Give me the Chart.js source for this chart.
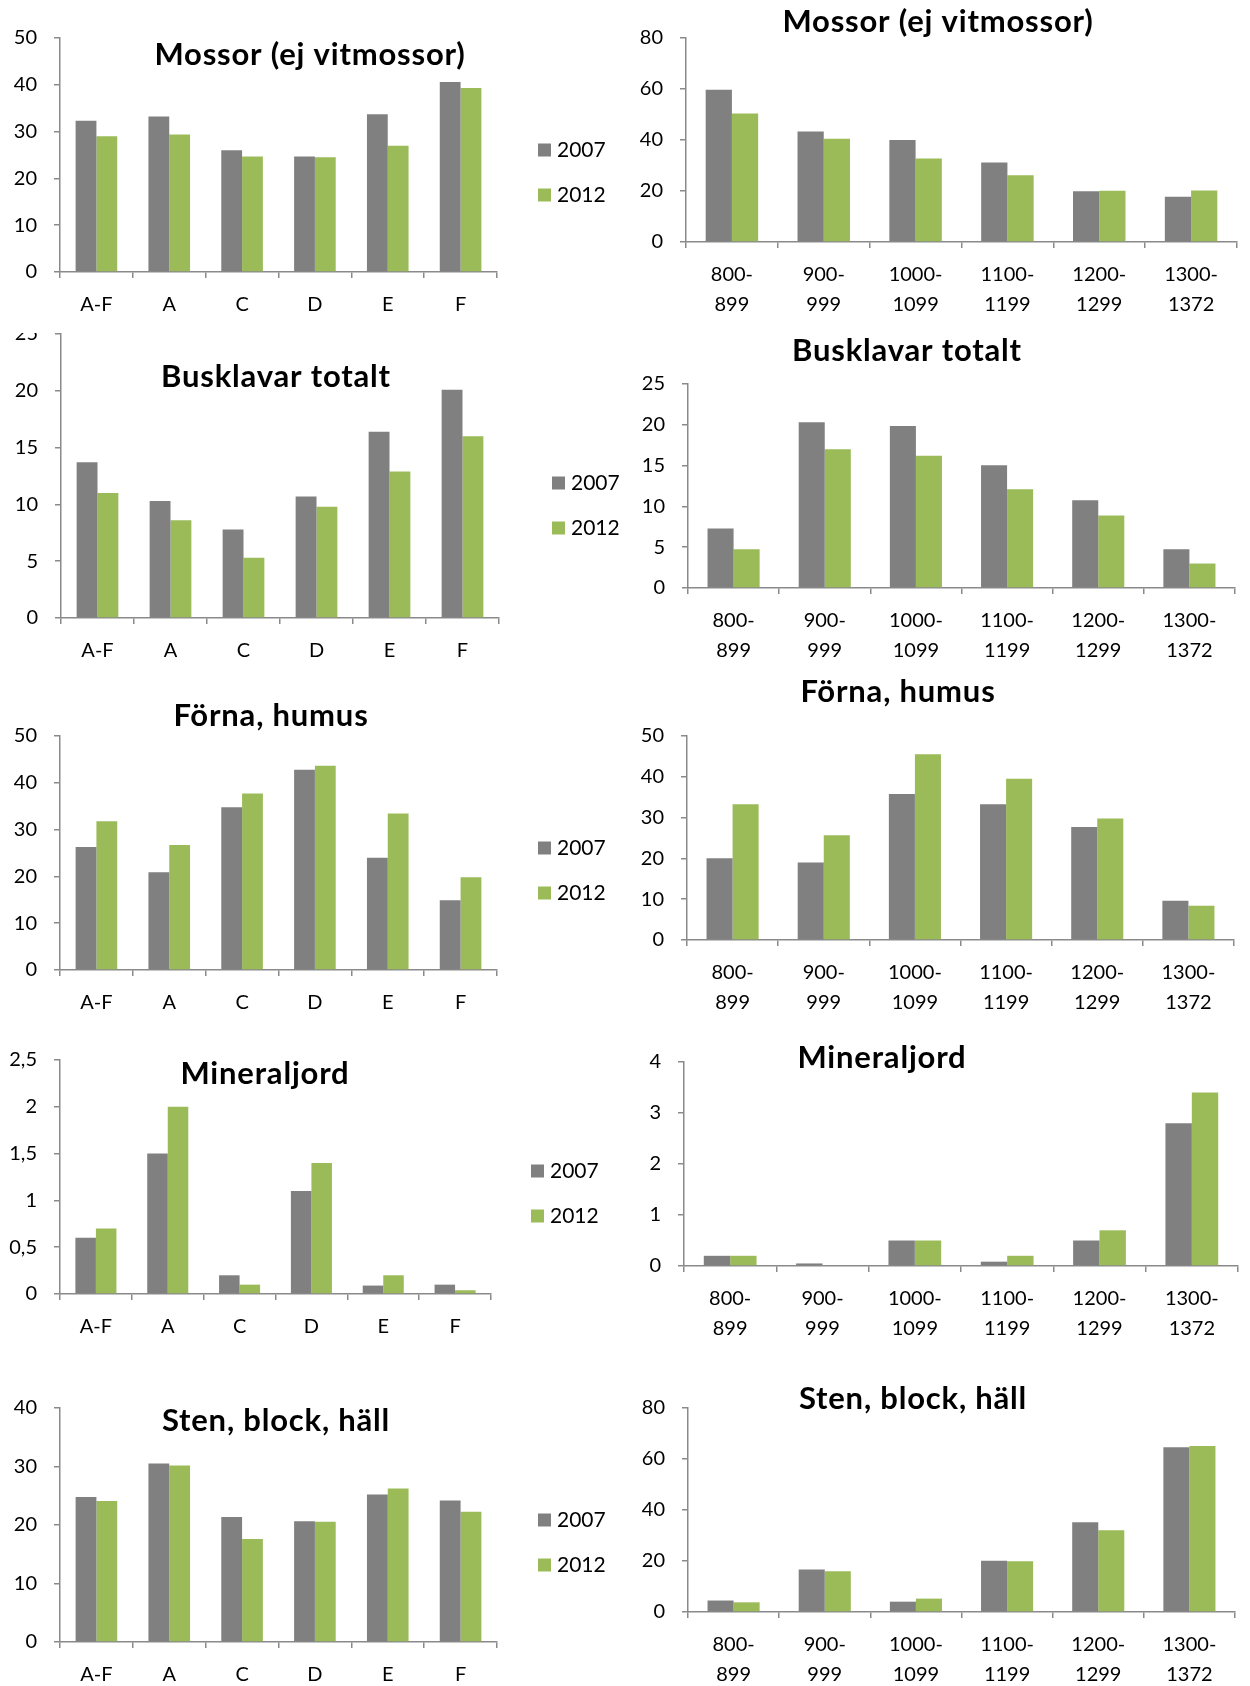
<!DOCTYPE html>
<html lang="sv">
<head>
<meta charset="utf-8">
<title>Mossor, busklavar, förna, mineraljord och sten 2007–2012</title>
<script src="https://cdn.jsdelivr.net/npm/chart.js@4.4.1/dist/chart.umd.min.js"></script>
<style>
  html, body { margin: 0; padding: 0; background: #fff; }
  #page { position: relative; width: 1250px; height: 1686px; overflow: hidden; }
  .slot { position: absolute; overflow: hidden; }
  .slot canvas { position: absolute; left: 0; }
</style>
</head>
<body>
<div id="page"></div>
<script>
// kategorier
const zoner = ['A-F', 'A', 'C', 'D', 'E', 'F'];
const hojder = [['800-', '899'], ['900-', '999'], ['1000-', '1099'], ['1100-', '1199'], ['1200-', '1299'], ['1300-', '1372']];
const ar = ['2007', '2012'];

// Mossor (ej vitmossor)
const mossorZon2007 = [32.3, 33.2, 26.0, 24.7, 33.7, 40.6];
const mossorZon2012 = [29.0, 29.4, 24.7, 24.5, 27.0, 39.3];
const mossorHojd2007 = [59.7, 43.3, 40.0, 31.2, 19.9, 17.7];
const mossorHojd2012 = [50.4, 40.5, 32.7, 26.2, 20.1, 20.2];

// Busklavar totalt
const buskZon2007 = [13.7, 10.3, 7.8, 10.7, 16.4, 20.1];
const buskZon2012 = [11.0, 8.6, 5.3, 9.8, 12.9, 16.0];
const buskHojd2007 = [7.3, 20.3, 19.85, 15.05, 10.75, 4.75];
const buskHojd2012 = [4.75, 17.0, 16.2, 12.1, 8.9, 3.0];

// Förna, humus
const fornaZon2007 = [26.3, 20.9, 34.8, 42.8, 24.0, 14.9];
const fornaZon2012 = [31.8, 26.7, 37.7, 43.65, 33.45, 19.8];
const fornaHojd2007 = [20.05, 19.0, 35.8, 33.3, 27.7, 9.65];
const fornaHojd2012 = [33.3, 25.7, 45.5, 39.5, 29.8, 8.4];

// Mineraljord
const mineralZon2007 = [0.6, 1.5, 0.2, 1.1, 0.09, 0.1];
const mineralZon2012 = [0.7, 2.0, 0.1, 1.4, 0.2, 0.04];
const mineralHojd2007 = [0.2, 0.05, 0.5, 0.085, 0.5, 2.8];
const mineralHojd2012 = [0.2, 0, 0.5, 0.2, 0.7, 3.4];

// Sten, block, häll
const stenZon2007 = [24.8, 30.5, 21.35, 20.65, 25.2, 24.2];
const stenZon2012 = [24.1, 30.15, 17.6, 20.55, 26.25, 22.25];
const stenHojd2007 = [4.5, 16.65, 4.05, 20.05, 35.15, 64.65];
const stenHojd2012 = [3.8, 16.0, 5.25, 19.9, 32.1, 65.05];

const GRAY = '#808080';
const GREEN = '#9bbb59';
const AXIS = '#8a8a8a';
const Y_W = 60;   // bredd för y-axeln
const X_H = 95;   // höjd för x-axeln (två rader etiketter)

Chart.defaults.font.family = 'Lato, "Open Sans", sans-serif';
Chart.defaults.color = '#000';

// rubrik och förklaring ritas på egna positioner
const panelDecor = {
  id: 'panelDecor',
  afterDraw(chart, args, opts) {
    const ctx = chart.ctx;
    ctx.save();
    ctx.fillStyle = '#000';
    ctx.textBaseline = 'middle';
    ctx.textAlign = 'center';
    ctx.font = 'bold 31px Lato, sans-serif';
    ctx.letterSpacing = '0.8px';
    ctx.fillText(opts.text, opts.tx, opts.ty);
    ctx.letterSpacing = '0px';
    if (opts.legend) {
      ctx.textAlign = 'left';
      ctx.font = '21px Lato, sans-serif';
      chart.data.datasets.forEach((ds, i) => {
        const y = opts.ly + i * 45;
        ctx.fillStyle = ds.backgroundColor;
        ctx.fillRect(opts.lx, y - 6.5, 13, 13);
        ctx.fillStyle = '#000';
        ctx.fillText(ds.label, opts.lx + 19, y);
      });
    }
    ctx.restore();
  }
};

const panels = [
  { title: 'Mossor (ej vitmossor)', labels: zoner, a: mossorZon2007, b: mossorZon2012, max: 50, step: 10,
    box: { x: 60, top: 38, zero: 272, right: 497 }, tpos: [310, 55], lpos: [538, 150] },
  { title: 'Mossor (ej vitmossor)', labels: hojder, a: mossorHojd2007, b: mossorHojd2012, max: 80, step: 20,
    box: { x: 686, top: 38, zero: 242, right: 1237 }, tpos: [938, 22] },
  { title: 'Busklavar totalt', labels: zoner, a: buskZon2007, b: buskZon2012, max: 25, step: 5,
    box: { x: 61, top: 334, zero: 618, right: 499 }, tpos: [276, 377], lpos: [552, 483], clipTop: 333 },
  { title: 'Busklavar totalt', labels: hojder, a: buskHojd2007, b: buskHojd2012, max: 25, step: 5,
    box: { x: 688, top: 384, zero: 588, right: 1235 }, tpos: [907, 351] },
  { title: 'Förna, humus', labels: zoner, a: fornaZon2007, b: fornaZon2012, max: 50, step: 10,
    box: { x: 60, top: 736, zero: 970, right: 497 }, tpos: [271, 716], lpos: [538, 848] },
  { title: 'Förna, humus', labels: hojder, a: fornaHojd2007, b: fornaHojd2012, max: 50, step: 10,
    box: { x: 687, top: 736, zero: 940, right: 1234 }, tpos: [898, 692] },
  { title: 'Mineraljord', labels: zoner, a: mineralZon2007, b: mineralZon2012, max: 2.5, step: 0.5,
    box: { x: 60, top: 1060, zero: 1294, right: 491 }, tpos: [265, 1074], lpos: [531, 1171] },
  { title: 'Mineraljord', labels: hojder, a: mineralHojd2007, b: mineralHojd2012, max: 4, step: 1,
    box: { x: 684, top: 1062, zero: 1266, right: 1238 }, tpos: [882, 1058] },
  { title: 'Sten, block, häll', labels: zoner, a: stenZon2007, b: stenZon2012, max: 40, step: 10,
    box: { x: 60, top: 1408, zero: 1642, right: 497 }, tpos: [276, 1421], lpos: [538, 1520] },
  { title: 'Sten, block, häll', labels: hojder, a: stenHojd2007, b: stenHojd2012, max: 80, step: 20,
    box: { x: 688, top: 1408, zero: 1612, right: 1235 }, tpos: [913, 1399] }
];

const page = document.getElementById('page');

panels.forEach(p => {
  const left = p.box.x < 625 ? 0 : 625;
  const width = 625;
  const top = Math.min(p.box.top - 40, p.tpos[1] - 24);
  const height = p.box.zero - top + X_H;
  const clipTop = p.clipTop !== undefined ? p.clipTop : top;

  const slot = document.createElement('div');
  slot.className = 'slot';
  slot.style.left = left + 'px';
  slot.style.top = clipTop + 'px';
  slot.style.width = width + 'px';
  slot.style.height = (top + height - clipTop) + 'px';
  const canvas = document.createElement('canvas');
  canvas.width = width;
  canvas.height = height;
  canvas.style.top = (top - clipTop) + 'px';
  slot.appendChild(canvas);
  page.appendChild(slot);

  new Chart(canvas.getContext('2d'), {
    type: 'bar',
    data: {
      labels: p.labels,
      datasets: [
        { label: ar[0], data: p.a, backgroundColor: GRAY },
        { label: ar[1], data: p.b, backgroundColor: GREEN }
      ]
    },
    options: {
      responsive: false,
      animation: false,
      events: [],
      categoryPercentage: 2 / 3.5,
      barPercentage: 1,
      layout: {
        padding: { left: p.box.x - left - Y_W, top: p.box.top - top, right: left + width - p.box.right, bottom: 0 }
      },
      scales: {
        x: {
          grid: { drawOnChartArea: false, drawTicks: true, tickLength: 6, color: AXIS, lineWidth: 1.5 },
          border: { color: AXIS, width: 1.5 },
          ticks: { font: { size: 20, lineHeight: 1.5 }, padding: 12, maxRotation: 0, autoSkip: false },
          afterFit: s => { s.height = X_H; }
        },
        y: {
          min: 0,
          max: p.max,
          grid: { drawOnChartArea: false, drawTicks: true, tickLength: 6, color: AXIS, lineWidth: 1.5 },
          border: { color: AXIS, width: 1.5 },
          ticks: {
            stepSize: p.step,
            padding: 17,
            font: { size: 20 },
            callback: v => String(v).replace('.', ',')
          },
          afterFit: s => { s.width = Y_W; }
        }
      },
      plugins: {
        legend: { display: false },
        title: { display: false },
        tooltip: { enabled: false },
        panelDecor: {
          text: p.title,
          tx: p.tpos[0] - left,
          ty: p.tpos[1] - top,
          legend: !!p.lpos,
          lx: p.lpos ? p.lpos[0] - left : 0,
          ly: p.lpos ? p.lpos[1] - top : 0
        }
      }
    },
    plugins: [panelDecor]
  });
});
</script>
</body>
</html>
